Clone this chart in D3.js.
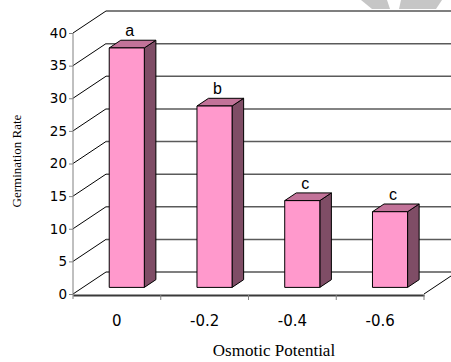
<!DOCTYPE html>
<html>
<head>
<meta charset="utf-8">
<script src="https://cdn.jsdelivr.net/npm/d3@7"></script>
<style>
  html, body { margin: 0; padding: 0; background: #fff; }
  svg { display: block; }
</style>
</head>
<body>
<svg id="chart" width="451" height="362"></svg>
<script>
// Germination rate by osmotic potential (3-D column chart)
const categories = ["0", "-0.2", "-0.4", "-0.6"];
const values = [36.7, 27.8, 13.3, 11.6];
const letters = ["a", "b", "c", "c"];
const yTicks = [0, 5, 10, 15, 20, 25, 30, 35, 40];

const svg = d3.select("#chart");

// front plane of the plot box
const x = d3.scaleBand().domain(categories).range([73, 424]).paddingInner(0).paddingOuter(0);
const y = d3.scaleLinear().domain([0, 40]).range([294, 33]);

// oblique depth of the floor / side wall
const DX = 33, DY = 22;
const proj = f => [f * DX, -f * DY];

// watermark shapes at the top edge
const wm = svg.append("g").attr("fill", "#c6c6c6");
wm.append("path").attr("d", "M361,0 L387,0 L390,9 L372,9 Z");
wm.append("path").attr("d", "M401,0 L442,0 L436,9 L399,9 Z");

// side wall diagonals and back-wall gridlines
const grid = svg.append("g");
yTicks.forEach(t => {
  const y0 = y(t);
  grid.append("line")
    .attr("x1", 73).attr("y1", y0)
    .attr("x2", 73 + DX).attr("y2", y0 - DY)
    .attr("stroke", "#000").attr("stroke-width", 1);
  const edge = (t === 40 || t === 0);
  grid.append("line")
    .attr("x1", 73 + DX).attr("y1", y0 - DY)
    .attr("x2", 424 + DX).attr("y2", y0 - DY)
    .attr("stroke", edge ? "#000" : "#5a5a5a")
    .attr("stroke-width", edge ? 1.2 : 1.5);
});

// right edge of the floor
svg.append("line")
  .attr("x1", 424).attr("y1", y(0))
  .attr("x2", 424 + DX).attr("y2", y(0) - DY)
  .attr("stroke", "#000").attr("stroke-width", 1);

// columns
const bw = x.bandwidth();
const F0 = 0.3, F1 = 0.65;
const bars = svg.append("g");
categories.forEach((c, i) => {
  const [ox, oy] = proj(F0);
  const [bx, by] = proj(F1 - F0);
  const x0 = x(c) + bw * 0.3 + ox;
  const x1 = x(c) + bw * 0.7 + ox;
  const yb = y(0) + oy;
  const yt = y(values[i]) + oy;
  const g = bars.append("g").attr("stroke", "#000").attr("stroke-width", 1).attr("stroke-linejoin", "round");
  // side face
  g.append("path")
    .attr("d", `M${x1},${yt} L${x1 + bx},${yt + by} L${x1 + bx},${yb + by} L${x1},${yb} Z`)
    .attr("fill", "#7f4d66");
  // top face
  g.append("path")
    .attr("d", `M${x0},${yt} L${x0 + bx},${yt + by} L${x1 + bx},${yt + by} L${x1},${yt} Z`)
    .attr("fill", "#c27399");
  // front face
  g.append("rect")
    .attr("x", x0).attr("y", yt)
    .attr("width", x1 - x0).attr("height", yb - yt)
    .attr("fill", "#ff99cc");
  // significance letter
  svg.append("text")
    .attr("x", (x0 + x1) / 2 + 3)
    .attr("y", yt - 12)
    .attr("text-anchor", "middle")
    .attr("font-family", "Liberation Sans, Arial, sans-serif")
    .attr("font-size", 16)
    .attr("fill", "#000")
    .text(letters[i]);
});

// value axis
const yAxis = svg.append("g")
  .attr("transform", "translate(73,0)")
  .call(d3.axisLeft(y).tickValues(yTicks).tickSize(4).tickSizeOuter(0).tickPadding(2));
yAxis.select(".domain").remove();
yAxis.selectAll(".tick line").attr("stroke", "#808080");
yAxis.selectAll("text")
  .attr("font-family", "DejaVu Sans, Verdana, sans-serif")
  .attr("font-size", 13.5)
  .attr("fill", "#000");
svg.append("line")
  .attr("x1", 73).attr("y1", y(40))
  .attr("x2", 73).attr("y2", y(0) + 5)
  .attr("stroke", "#808080").attr("stroke-width", 1);

// category axis: front edge of the floor
const xAxis = svg.append("g")
  .attr("transform", `translate(0,${y(0) + 1})`)
  .call(d3.axisBottom(x).tickSize(0).tickPadding(20).tickSizeOuter(0));
xAxis.select(".domain").attr("stroke", "#3a3a3a").attr("stroke-width", 2);
xAxis.selectAll("text")
  .attr("font-family", "DejaVu Sans, Verdana, sans-serif")
  .attr("font-size", 15)
  .attr("fill", "#000");
// boundary tick marks between categories
const bounds = categories.map(c => x(c) + bw).slice(0);
svg.append("g").selectAll("line").data(bounds).join("line")
  .attr("x1", d => d).attr("x2", d => d)
  .attr("y1", y(0) + 1).attr("y2", y(0) + 6)
  .attr("stroke", "#808080").attr("stroke-width", 1);

// axis titles
svg.append("text")
  .attr("transform", "translate(21,161) rotate(-90)")
  .attr("text-anchor", "middle")
  .attr("font-family", "Liberation Serif, Times New Roman, serif")
  .attr("font-size", 13)
  .attr("fill", "#000")
  .text("Germination Rate");
svg.append("text")
  .attr("x", 274).attr("y", 356)
  .attr("text-anchor", "middle")
  .attr("font-family", "Liberation Serif, Times New Roman, serif")
  .attr("font-size", 17)
  .attr("fill", "#000")
  .text("Osmotic Potential");
</script>
</body>
</html>
